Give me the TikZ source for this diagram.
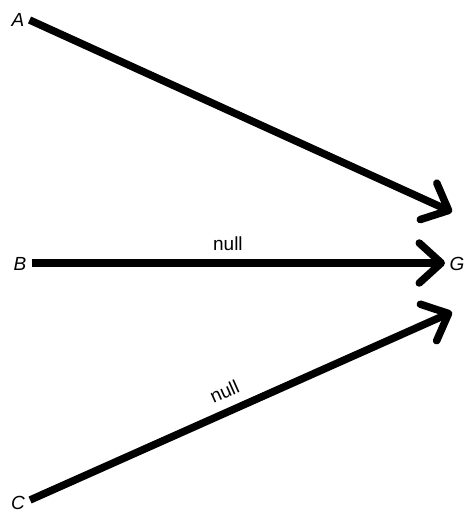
\documentclass[tikz,border=0pt]{standalone}
\usepackage{fontspec}
\setmainfont{Liberation Sans}
\usetikzlibrary{arrows.meta}
\begin{document}
\begin{tikzpicture}[x=1pt,y=-1pt,
  vertex/.style={font=\fontsize{19}{19}\selectfont\itshape, inner sep=1pt},
  edgelabel/.style={font=\fontsize{19}{19}\selectfont},
  flow/.style={line width=7.5pt, -{Straight Barb[length=22pt,width=40pt,round]}}]
\useasboundingbox (0,0) rectangle (464,514);
% source and target labels
\node[vertex] (A) at (18,20) {A};
\node[vertex] (B) at (20,264) {B};
\node[vertex] (C) at (18,503) {C};
\node[vertex] (G) at (457,264) {G};
% arrow tips around the target
\coordinate (gA) at (452,212);
\coordinate (gB) at (445,263);
\coordinate (gC) at (452,312);
% edges
\draw[flow] (A.east) ++(4,0) coordinate (sA) (sA) -- (gA);
\draw[flow] (B.east) ++(4,-1) coordinate (sB) (sB) -- (gB)
  node[edgelabel, pos=0.475, above=5pt] {null};
\draw[flow] (C.east) ++(4,-3) coordinate (sC) (sC) -- (gC)
  node[edgelabel, pos=0.48, sloped, above=6pt] {null};
\end{tikzpicture}
\end{document}
